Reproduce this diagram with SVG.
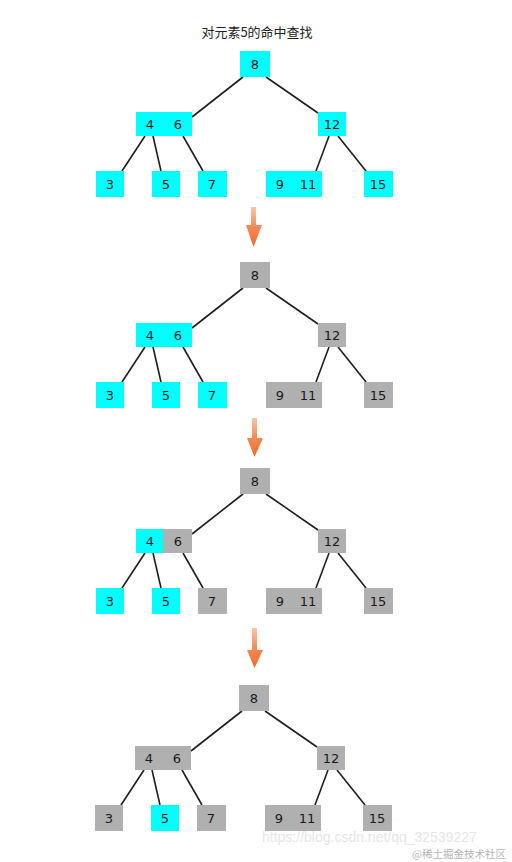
<svg xmlns="http://www.w3.org/2000/svg" width="512" height="862" viewBox="0 0 512 862">
<defs>
<style>
.c{fill:#00ffff}
.g{fill:#b0b0b0}
.t{font-family:"DejaVu Sans","Noto Sans",sans-serif;font-size:13px;fill:#1a1a1a;text-anchor:middle}
.e{stroke:#1e1e1e;stroke-width:1.6;fill:none}
.title{font-family:"Noto Sans CJK SC","Noto Sans",sans-serif;font-size:13px;fill:#222;text-anchor:middle}
.arrow{fill:url(#ag)}
</style>
<linearGradient id="ag" x1="0" y1="0" x2="0" y2="1">
<stop offset="0" stop-color="#f9c6a8"/>
<stop offset="0.5" stop-color="#f28a55"/>
<stop offset="1" stop-color="#ef6a2a"/>
</linearGradient>
</defs>
<rect width="512" height="862" fill="#ffffff"/>
<text class="title" x="257" y="37">对元素5的命中查找</text>

<!-- Tree 1 -->
<g id="tree1">
<g id="t1-edges">
<line class="e" x1="243" y1="77" x2="192" y2="117"/>
<line class="e" x1="266" y1="77" x2="318" y2="113"/>
<line class="e" x1="145" y1="136" x2="122" y2="171"/>
<line class="e" x1="153" y1="136" x2="161" y2="171"/>
<line class="e" x1="183" y1="136" x2="203" y2="171"/>
<line class="e" x1="329" y1="136" x2="316" y2="171"/>
<line class="e" x1="338" y1="136" x2="366" y2="171"/>
</g>
<g id="t1-n8"><rect class="c" x="240" y="51" width="30" height="26"/><text class="t" x="255" y="69">8</text></g>
<g id="t1-n46"><rect class="c" x="136" y="112" width="56" height="24"/><text class="t" x="150" y="129">4</text><text class="t" x="178" y="129">6</text></g>
<g id="t1-n12"><rect class="c" x="318" y="112" width="28" height="24"/><text class="t" x="332" y="129">12</text></g>
<g id="t1-n3"><rect class="c" x="96" y="171" width="28" height="26"/><text class="t" x="110" y="189">3</text></g>
<g id="t1-n5"><rect class="c" x="152" y="171" width="28" height="26"/><text class="t" x="166" y="189">5</text></g>
<g id="t1-n7"><rect class="c" x="198" y="171" width="29" height="26"/><text class="t" x="212" y="189">7</text></g>
<g id="t1-n911"><rect class="c" x="266" y="171" width="56" height="26"/><text class="t" x="280" y="189">9</text><text class="t" x="308" y="189">11</text></g>
<g id="t1-n15"><rect class="c" x="364" y="171" width="29" height="26"/><text class="t" x="378" y="189">15</text></g>
</g>

<g id="arrows">
<path class="arrow" d="M251,207 H256 V225 H262 L253.5,247 L246,225 H251 Z"/>
<path class="arrow" d="M252,418 H257 V438 H263 L254.5,457 L247,438 H252 Z"/>
<path class="arrow" d="M252,628 H257 V650 H263 L254.5,668 L247,650 H252 Z"/>
</g>

<!-- Tree 2 -->
<g id="tree2" transform="translate(0,211)">
<g id="t2-edges">
<line class="e" x1="243" y1="77" x2="192" y2="117"/>
<line class="e" x1="266" y1="77" x2="318" y2="113"/>
<line class="e" x1="145" y1="136" x2="122" y2="171"/>
<line class="e" x1="153" y1="136" x2="161" y2="171"/>
<line class="e" x1="183" y1="136" x2="203" y2="171"/>
<line class="e" x1="329" y1="136" x2="316" y2="171"/>
<line class="e" x1="338" y1="136" x2="366" y2="171"/>
</g>
<g id="t2-n8"><rect class="g" x="240" y="51" width="30" height="26"/><text class="t" x="255" y="69">8</text></g>
<g id="t2-n46"><rect class="c" x="136" y="112" width="56" height="24"/><text class="t" x="150" y="129">4</text><text class="t" x="178" y="129">6</text></g>
<g id="t2-n12"><rect class="g" x="318" y="112" width="28" height="24"/><text class="t" x="332" y="129">12</text></g>
<g id="t2-n3"><rect class="c" x="96" y="171" width="28" height="26"/><text class="t" x="110" y="189">3</text></g>
<g id="t2-n5"><rect class="c" x="152" y="171" width="28" height="26"/><text class="t" x="166" y="189">5</text></g>
<g id="t2-n7"><rect class="c" x="198" y="171" width="29" height="26"/><text class="t" x="212" y="189">7</text></g>
<g id="t2-n911"><rect class="g" x="266" y="171" width="56" height="26"/><text class="t" x="280" y="189">9</text><text class="t" x="308" y="189">11</text></g>
<g id="t2-n15"><rect class="g" x="364" y="171" width="29" height="26"/><text class="t" x="378" y="189">15</text></g>
</g>

<!-- Tree 3 -->
<g id="tree3" transform="translate(0,417)">
<g id="t3-edges">
<line class="e" x1="243" y1="77" x2="192" y2="117"/>
<line class="e" x1="266" y1="77" x2="318" y2="113"/>
<line class="e" x1="145" y1="136" x2="122" y2="171"/>
<line class="e" x1="153" y1="136" x2="161" y2="171"/>
<line class="e" x1="183" y1="136" x2="203" y2="171"/>
<line class="e" x1="329" y1="136" x2="316" y2="171"/>
<line class="e" x1="338" y1="136" x2="366" y2="171"/>
</g>
<g id="t3-n8"><rect class="g" x="240" y="51" width="30" height="26"/><text class="t" x="255" y="69">8</text></g>
<g id="t3-n46"><rect class="c" x="136" y="112" width="27" height="24"/><rect class="g" x="163" y="112" width="29" height="24"/><text class="t" x="150" y="129">4</text><text class="t" x="178" y="129">6</text></g>
<g id="t3-n12"><rect class="g" x="318" y="112" width="28" height="24"/><text class="t" x="332" y="129">12</text></g>
<g id="t3-n3"><rect class="c" x="96" y="171" width="28" height="26"/><text class="t" x="110" y="189">3</text></g>
<g id="t3-n5"><rect class="c" x="152" y="171" width="28" height="26"/><text class="t" x="166" y="189">5</text></g>
<g id="t3-n7"><rect class="g" x="198" y="171" width="29" height="26"/><text class="t" x="212" y="189">7</text></g>
<g id="t3-n911"><rect class="g" x="266" y="171" width="56" height="26"/><text class="t" x="280" y="189">9</text><text class="t" x="308" y="189">11</text></g>
<g id="t3-n15"><rect class="g" x="364" y="171" width="29" height="26"/><text class="t" x="378" y="189">15</text></g>
</g>

<!-- Tree 4 -->
<g id="tree4" transform="translate(-1,634)">
<g id="t4-edges">
<line class="e" x1="243" y1="77" x2="192" y2="117"/>
<line class="e" x1="266" y1="77" x2="318" y2="113"/>
<line class="e" x1="145" y1="136" x2="122" y2="171"/>
<line class="e" x1="153" y1="136" x2="161" y2="171"/>
<line class="e" x1="183" y1="136" x2="203" y2="171"/>
<line class="e" x1="329" y1="136" x2="316" y2="171"/>
<line class="e" x1="338" y1="136" x2="366" y2="171"/>
</g>
<g id="t4-n8"><rect class="g" x="240" y="51" width="30" height="26"/><text class="t" x="255" y="69">8</text></g>
<g id="t4-n46"><rect class="g" x="136" y="112" width="56" height="24"/><text class="t" x="150" y="129">4</text><text class="t" x="178" y="129">6</text></g>
<g id="t4-n12"><rect class="g" x="318" y="112" width="28" height="24"/><text class="t" x="332" y="129">12</text></g>
<g id="t4-n3"><rect class="g" x="96" y="171" width="28" height="26"/><text class="t" x="110" y="189">3</text></g>
<g id="t4-n5"><rect class="c" x="152" y="171" width="28" height="26"/><text class="t" x="166" y="189">5</text></g>
<g id="t4-n7"><rect class="g" x="198" y="171" width="29" height="26"/><text class="t" x="212" y="189">7</text></g>
<g id="t4-n911"><rect class="g" x="266" y="171" width="56" height="26"/><text class="t" x="280" y="189">9</text><text class="t" x="308" y="189">11</text></g>
<g id="t4-n15"><rect class="g" x="364" y="171" width="29" height="26"/><text class="t" x="378" y="189">15</text></g>
</g>

<g id="watermark">
<text x="262" y="842" font-family="'Liberation Sans',sans-serif" font-size="14" fill="#e6e6e6">https://blog.csdn.net/qq_32539227</text>
<text x="412" y="858" font-family="'Noto Sans CJK SC',sans-serif" font-size="10.5" fill="#b5b5b5">@稀土掘金技术社区</text>
</g>
</svg>
